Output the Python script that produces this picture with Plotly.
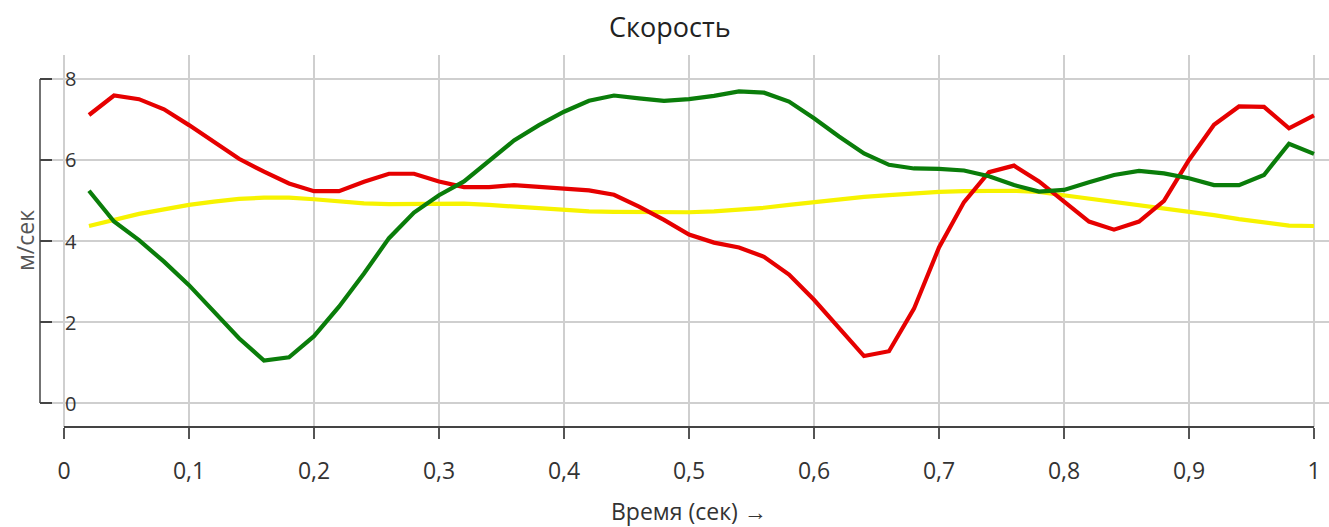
import plotly.graph_objects as go

time_s = [0.02, 0.04, 0.06, 0.08, 0.10, 0.12, 0.14, 0.16, 0.18, 0.20,
          0.22, 0.24, 0.26, 0.28, 0.30, 0.32, 0.34, 0.36, 0.38, 0.40,
          0.42, 0.44, 0.46, 0.48, 0.50, 0.52, 0.54, 0.56, 0.58, 0.60,
          0.62, 0.64, 0.66, 0.68, 0.70, 0.72, 0.74, 0.76, 0.78, 0.80,
          0.82, 0.84, 0.86, 0.88, 0.90, 0.92, 0.94, 0.96, 0.98, 1.00]

red_speed = [7.11, 7.59, 7.50, 7.25, 6.86, 6.44, 6.03, 5.71, 5.42, 5.23,
             5.23, 5.46, 5.66, 5.66, 5.47, 5.33, 5.33, 5.38, 5.34, 5.29,
             5.25, 5.14, 4.85, 4.52, 4.16, 3.96, 3.84, 3.61, 3.17, 2.55,
             1.86, 1.16, 1.28, 2.33, 3.84, 4.96, 5.70, 5.86, 5.47, 4.97,
             4.48, 4.28, 4.48, 4.99, 6.00, 6.87, 7.32, 7.31, 6.78, 7.10]

green_speed = [5.24, 4.48, 4.02, 3.49, 2.91, 2.25, 1.60, 1.05, 1.13, 1.65,
               2.38, 3.20, 4.07, 4.70, 5.13, 5.47, 5.96, 6.48, 6.86, 7.19,
               7.46, 7.59, 7.52, 7.46, 7.50, 7.58, 7.69, 7.66, 7.44, 7.03,
               6.58, 6.16, 5.88, 5.79, 5.78, 5.74, 5.60, 5.38, 5.22, 5.26,
               5.45, 5.63, 5.73, 5.67, 5.55, 5.38, 5.38, 5.63, 6.40, 6.15]

yellow_speed = [4.37, 4.52, 4.67, 4.78, 4.89, 4.97, 5.04, 5.07, 5.07, 5.03,
                4.97, 4.93, 4.91, 4.91, 4.93, 4.92, 4.89, 4.85, 4.80, 4.75,
                4.73, 4.72, 4.71, 4.71, 4.71, 4.73, 4.77, 4.82, 4.89, 4.96,
                5.03, 5.09, 5.13, 5.18, 5.21, 5.23, 5.24, 5.24, 5.21, 5.13,
                5.05, 4.97, 4.89, 4.81, 4.72, 4.64, 4.54, 4.45, 4.38, 4.37]

x_ticks = [0, 0.1, 0.2, 0.3, 0.4, 0.5, 0.6, 0.7, 0.8, 0.9, 1.0]
x_tick_labels = ["0", "0,1", "0,2", "0,3", "0,4", "0,5", "0,6", "0,7", "0,8", "0,9", "1"]
y_ticks = [0, 2, 4, 6, 8]
y_tick_labels = ["0", "2", "4", "6", "8"]

FONT = "Open Sans"
AXIS_COLOR = "#444444"
GRID_COLOR = "#cfcfcf"

fig = go.Figure()
for vals, col in [(yellow_speed, "#f7f300"), (red_speed, "#e60000"), (green_speed, "#0a7d0a")]:
    fig.add_trace(go.Scatter(x=time_s, y=vals, mode="lines",
                             line=dict(color=col, width=4.2), showlegend=False,
                             hoverinfo="x+y"))

fig.update_layout(
    width=1329, height=527,
    margin=dict(l=40, r=0, t=55, b=100),
    paper_bgcolor="white", plot_bgcolor="white",
    font=dict(family=FONT, color="#333333", size=20),
    title=dict(text="Скорость", x=0.504, xanchor="center", y=0.947, yanchor="middle",
               font=dict(size=27, color="#222222", family=FONT)),
    showlegend=False,
)

fig.update_xaxes(
    range=[-0.0192, 1.012], tickvals=x_ticks, ticktext=x_tick_labels,
    showgrid=True, gridcolor=GRID_COLOR, gridwidth=2,
    zeroline=False, showline=False,
    ticks="outside", ticklen=11, tickwidth=2, tickcolor="#555555",
    ticklabelstandoff=12,
    tickfont=dict(size=23, color="#333333", family=FONT),
)
fig.update_yaxes(
    range=[-0.59, 8.59], tickvals=y_ticks,
    showgrid=True, gridcolor=GRID_COLOR, gridwidth=2,
    zeroline=False, showline=False, showticklabels=False,
    ticks="inside", ticklen=12, tickwidth=1.5, tickcolor=AXIS_COLOR,
)

# y tick labels placed just right of the ticks, inside the plot
for v, lab in zip(y_ticks, y_tick_labels):
    fig.add_annotation(text=lab, xref="paper", yref="y", x=0, y=v,
                       xshift=23, xanchor="left", yanchor="middle", showarrow=False,
                       font=dict(size=20, color="#333333", family=FONT))

# axis lines spanning only the data extents
fig.add_shape(type="line", xref="paper", yref="y", x0=0, x1=0, y0=0, y1=8,
              line=dict(color=AXIS_COLOR, width=1.5), layer="above")
fig.add_shape(type="line", xref="x", yref="paper", x0=0, x1=1, y0=0, y1=0,
              line=dict(color=AXIS_COLOR, width=2), layer="above")

fig.add_annotation(text="м/сек", xref="paper", yref="paper", x=0, y=0.5,
                   xshift=-15, textangle=-90, showarrow=False,
                   xanchor="center", yanchor="middle",
                   font=dict(size=23, color="#555555", family=FONT))
fig.add_annotation(text="Время (сек) →", xref="x", yref="paper", x=0.5, y=0,
                   yshift=-84, showarrow=False, xanchor="center", yanchor="middle",
                   font=dict(size=23, color="#333333", family=FONT))

fig.write_html("out.html", config={"displayModeBar": False},
               post_script="document.body.style.margin='0';document.body.style.overflow='hidden';")
